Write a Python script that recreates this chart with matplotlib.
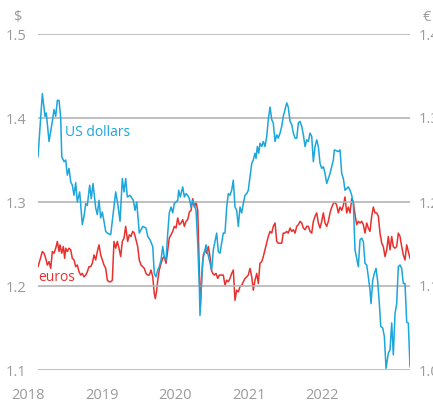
import matplotlib
matplotlib.use("Agg")
import matplotlib.pyplot as plt
import matplotlib.transforms as mtransforms

# Weekly rates (time in decimal years)
usd_t = [2018.136, 2018.195, 2018.231, 2018.249, 2018.286, 2018.331, 2018.354, 2018.377, 2018.399, 2018.422,
         2018.445, 2018.459, 2018.490, 2018.513, 2018.535, 2018.558, 2018.581, 2018.603, 2018.626, 2018.649,
         2018.671, 2018.703, 2018.739, 2018.762, 2018.785, 2018.807, 2018.839, 2018.861, 2018.884, 2018.921,
         2018.943, 2018.966, 2018.989, 2019.011, 2019.034, 2019.057, 2019.079, 2019.125, 2019.161, 2019.193,
         2019.224, 2019.252, 2019.283, 2019.306, 2019.329, 2019.351, 2019.388, 2019.433, 2019.456, 2019.479,
         2019.514, 2019.561, 2019.605, 2019.629, 2019.660, 2019.697, 2019.718, 2019.741, 2019.765, 2019.786,
         2019.810, 2019.833, 2019.854, 2019.878, 2019.901, 2019.922, 2019.946, 2019.969, 2019.990, 2020.037,
         2020.050, 2020.072, 2020.105, 2020.127, 2020.150, 2020.173, 2020.195, 2020.218, 2020.241, 2020.263,
         2020.286, 2020.309, 2020.331, 2020.340, 2020.354, 2020.377, 2020.399, 2020.422, 2020.445, 2020.467,
         2020.499, 2020.521, 2020.567, 2020.589, 2020.612, 2020.657, 2020.680, 2020.703, 2020.725, 2020.748,
         2020.771, 2020.793, 2020.816, 2020.839, 2020.861, 2020.884, 2020.907, 2020.929, 2020.952, 2020.976,
         2020.997, 2021.020, 2021.044, 2021.065, 2021.088, 2021.102, 2021.120, 2021.139, 2021.156, 2021.180,
         2021.201, 2021.224, 2021.248, 2021.269, 2021.293, 2021.316, 2021.337, 2021.361, 2021.384, 2021.405,
         2021.429, 2021.452, 2021.473, 2021.497, 2021.520, 2021.541, 2021.565, 2021.588, 2021.610, 2021.633,
         2021.656, 2021.678, 2021.701, 2021.724, 2021.746, 2021.769, 2021.792, 2021.814, 2021.837, 2021.860,
         2021.882, 2021.905, 2021.928, 2021.950, 2021.973, 2021.996, 2022.018, 2022.041, 2022.064, 2022.086,
         2022.109, 2022.132, 2022.154, 2022.167, 2022.222, 2022.245, 2022.268, 2022.290, 2022.313, 2022.336,
         2022.358, 2022.381, 2022.404, 2022.426, 2022.449, 2022.472, 2022.494, 2022.517, 2022.540, 2022.562,
         2022.585, 2022.608, 2022.630, 2022.653, 2022.667, 2022.690, 2022.712, 2022.735, 2022.758, 2022.780,
         2022.799, 2022.826, 2022.848, 2022.871, 2022.902, 2022.925, 2022.948, 2022.970, 2022.993, 2023.016,
         2023.038, 2023.061, 2023.084, 2023.106, 2023.129, 2023.152, 2023.174, 2023.197]
usd = [1.354, 1.429, 1.402, 1.406, 1.372, 1.396, 1.410, 1.402, 1.421, 1.421,
       1.400, 1.354, 1.348, 1.350, 1.332, 1.340, 1.324, 1.320, 1.308, 1.323,
       1.300, 1.312, 1.273, 1.283, 1.298, 1.296, 1.320, 1.304, 1.322, 1.293,
       1.285, 1.302, 1.281, 1.288, 1.277, 1.265, 1.263, 1.261, 1.288, 1.312,
       1.296, 1.277, 1.328, 1.312, 1.328, 1.306, 1.308, 1.302, 1.290, 1.300,
       1.263, 1.271, 1.269, 1.259, 1.255, 1.247, 1.215, 1.211, 1.219, 1.223,
       1.231, 1.247, 1.235, 1.231, 1.263, 1.287, 1.294, 1.287, 1.298, 1.302,
       1.314, 1.306, 1.318, 1.306, 1.310, 1.308, 1.304, 1.294, 1.302, 1.296,
       1.290, 1.251, 1.199, 1.165, 1.191, 1.231, 1.239, 1.249, 1.239, 1.231,
       1.219, 1.243, 1.263, 1.241, 1.239, 1.263, 1.263, 1.294, 1.310, 1.308,
       1.314, 1.326, 1.294, 1.290, 1.271, 1.294, 1.287, 1.298, 1.308, 1.310,
       1.314, 1.330, 1.346, 1.350, 1.358, 1.352, 1.366, 1.358, 1.370, 1.366,
       1.372, 1.366, 1.378, 1.398, 1.413, 1.398, 1.394, 1.372, 1.380, 1.376,
       1.382, 1.390, 1.402, 1.410, 1.418, 1.413, 1.396, 1.392, 1.382, 1.376,
       1.376, 1.394, 1.396, 1.390, 1.380, 1.366, 1.374, 1.372, 1.382, 1.378,
       1.348, 1.366, 1.374, 1.366, 1.346, 1.340, 1.342, 1.334, 1.322, 1.328,
       1.334, 1.342, 1.350, 1.362, 1.360, 1.362, 1.334, 1.328, 1.314, 1.316,
       1.318, 1.314, 1.308, 1.298, 1.243, 1.233, 1.223, 1.255, 1.257, 1.253,
       1.227, 1.225, 1.211, 1.195, 1.179, 1.207, 1.215, 1.221, 1.205, 1.179,
       1.152, 1.150, 1.140, 1.102, 1.120, 1.124, 1.156, 1.118, 1.167, 1.179,
       1.223, 1.225, 1.221, 1.203, 1.203, 1.157, 1.156, 1.104]

eur_t = [2018.136, 2018.163, 2018.195, 2018.218, 2018.241, 2018.263, 2018.286, 2018.309, 2018.331, 2018.354,
         2018.377, 2018.399, 2018.422, 2018.435, 2018.459, 2018.480, 2018.499, 2018.513, 2018.535, 2018.558,
         2018.581, 2018.603, 2018.626, 2018.649, 2018.671, 2018.694, 2018.717, 2018.739, 2018.762, 2018.785,
         2018.807, 2018.830, 2018.853, 2018.875, 2018.898, 2018.921, 2018.943, 2018.966, 2018.989, 2019.011,
         2019.034, 2019.057, 2019.079, 2019.102, 2019.125, 2019.147, 2019.170, 2019.193, 2019.215, 2019.238,
         2019.261, 2019.283, 2019.306, 2019.329, 2019.356, 2019.378, 2019.401, 2019.424, 2019.446, 2019.469,
         2019.492, 2019.514, 2019.537, 2019.561, 2019.582, 2019.605, 2019.629, 2019.650, 2019.673, 2019.697,
         2019.718, 2019.732, 2019.751, 2019.765, 2019.786, 2019.810, 2019.833, 2019.854, 2019.878, 2019.901,
         2019.922, 2019.946, 2019.969, 2019.990, 2020.014, 2020.037, 2020.059, 2020.082, 2020.105, 2020.127,
         2020.150, 2020.173, 2020.195, 2020.218, 2020.241, 2020.263, 2020.286, 2020.309, 2020.331, 2020.344,
         2020.363, 2020.385, 2020.412, 2020.431, 2020.453, 2020.476, 2020.494, 2020.513, 2020.535, 2020.558,
         2020.581, 2020.603, 2020.626, 2020.657, 2020.680, 2020.703, 2020.725, 2020.748, 2020.771, 2020.793,
         2020.816, 2020.839, 2020.861, 2020.884, 2020.907, 2020.929, 2020.952, 2020.976, 2020.997, 2021.020,
         2021.044, 2021.065, 2021.088, 2021.112, 2021.133, 2021.156, 2021.180, 2021.201, 2021.224, 2021.248,
         2021.269, 2021.293, 2021.316, 2021.337, 2021.361, 2021.384, 2021.405, 2021.429, 2021.452, 2021.473,
         2021.497, 2021.520, 2021.541, 2021.565, 2021.588, 2021.610, 2021.633, 2021.656, 2021.678, 2021.701,
         2021.724, 2021.746, 2021.769, 2021.792, 2021.814, 2021.837, 2021.860, 2021.882, 2021.905, 2021.928,
         2021.950, 2021.973, 2021.996, 2022.018, 2022.041, 2022.064, 2022.086, 2022.109, 2022.132, 2022.154,
         2022.177, 2022.200, 2022.222, 2022.245, 2022.268, 2022.290, 2022.313, 2022.336, 2022.358, 2022.381,
         2022.404, 2022.426, 2022.449, 2022.472, 2022.494, 2022.517, 2022.540, 2022.562, 2022.585, 2022.608,
         2022.630, 2022.653, 2022.676, 2022.698, 2022.721, 2022.744, 2022.766, 2022.789, 2022.812, 2022.834,
         2022.857, 2022.880, 2022.902, 2022.925, 2022.948, 2022.970, 2022.993, 2023.016, 2023.038, 2023.061,
         2023.084, 2023.106, 2023.129, 2023.152, 2023.174, 2023.197]
eur = [1.123, 1.131, 1.141, 1.139, 1.133, 1.125, 1.129, 1.121, 1.141, 1.139,
       1.145, 1.153, 1.141, 1.149, 1.139, 1.147, 1.133, 1.145, 1.141, 1.145,
       1.143, 1.133, 1.131, 1.123, 1.125, 1.117, 1.113, 1.115, 1.111, 1.113,
       1.117, 1.123, 1.123, 1.127, 1.137, 1.131, 1.141, 1.149, 1.137, 1.131,
       1.125, 1.121, 1.107, 1.105, 1.105, 1.107, 1.153, 1.145, 1.153, 1.145,
       1.135, 1.153, 1.157, 1.171, 1.153, 1.161, 1.159, 1.165, 1.163, 1.155,
       1.147, 1.131, 1.125, 1.123, 1.121, 1.115, 1.113, 1.113, 1.119, 1.111,
       1.091, 1.085, 1.095, 1.107, 1.119, 1.127, 1.133, 1.135, 1.127, 1.143,
       1.157, 1.161, 1.165, 1.171, 1.169, 1.181, 1.173, 1.175, 1.179, 1.171,
       1.177, 1.179, 1.188, 1.190, 1.204, 1.194, 1.200, 1.190, 1.115, 1.075,
       1.111, 1.137, 1.143, 1.139, 1.147, 1.135, 1.119, 1.115, 1.113, 1.115,
       1.109, 1.113, 1.113, 1.113, 1.101, 1.107, 1.105, 1.109, 1.115, 1.119,
       1.083, 1.095, 1.093, 1.099, 1.101, 1.105, 1.109, 1.111, 1.113, 1.121,
       1.111, 1.095, 1.107, 1.115, 1.103, 1.127, 1.129, 1.135, 1.143, 1.151,
       1.159, 1.165, 1.163, 1.171, 1.175, 1.153, 1.151, 1.151, 1.151, 1.163,
       1.163, 1.165, 1.163, 1.169, 1.165, 1.167, 1.163, 1.171, 1.173, 1.177,
       1.175, 1.169, 1.167, 1.171, 1.171, 1.165, 1.163, 1.177, 1.183, 1.187,
       1.175, 1.169, 1.177, 1.187, 1.175, 1.171, 1.177, 1.187, 1.194, 1.198,
       1.200, 1.196, 1.187, 1.194, 1.190, 1.196, 1.206, 1.187, 1.194, 1.187,
       1.204, 1.200, 1.185, 1.173, 1.177, 1.175, 1.177, 1.173, 1.163, 1.175,
       1.169, 1.165, 1.183, 1.194, 1.187, 1.187, 1.183, 1.163, 1.151, 1.147,
       1.135, 1.143, 1.159, 1.143, 1.159, 1.147, 1.145, 1.147, 1.163, 1.159,
       1.147, 1.137, 1.131, 1.149, 1.141, 1.133]

years = [2018, 2019, 2020, 2021, 2022]
usd_ticks = [1.1, 1.2, 1.3, 1.4, 1.5]
eur_ticks = [1.0, 1.1, 1.2, 1.3, 1.4]

BLUE = "#1ba6dc"
RED = "#e8312e"
GREY = "#9a9a9a"
GRID = "#b4b4b4"

plt.rcParams["font.family"] = ["Open Sans", "DejaVu Sans"]

fig = plt.figure(figsize=(4.33, 4.03), dpi=100)
ax = fig.add_axes([38 / 433, 33 / 403, 372 / 433, 336 / 403])
ax2 = ax.twinx()

ax.set_xlim(2018.136, 2023.197)
ax.set_ylim(1.1, 1.5)
ax2.set_ylim(1.0, 1.4)

# grid lines
for v in usd_ticks:
    ax.axhline(v, color=GRID, lw=1.2, zorder=0)

ax2.plot(eur_t, eur, color=RED, lw=1.1, solid_joinstyle="round")
ax.plot(usd_t, usd, color=BLUE, lw=1.1, solid_joinstyle="round")
ax.set_zorder(ax2.get_zorder() + 1)
ax.patch.set_visible(False)

for a in (ax, ax2):
    for s in a.spines.values():
        s.set_visible(False)
    a.set_xticks([])

ax.set_yticks(usd_ticks)
ax.set_yticklabels([f"{v:.1f}" for v in usd_ticks])
ax2.set_yticks(eur_ticks)
ax2.set_yticklabels([f"{v:.1f}" for v in eur_ticks])
ax.tick_params(axis="y", length=0, pad=8, labelsize=10.5, labelcolor=GREY)
ax2.tick_params(axis="y", length=0, pad=6, labelsize=10.5, labelcolor=GREY)

# year labels
trans = mtransforms.blended_transform_factory(ax.transData, ax.transAxes)
for yr in years:
    ax.text(yr, -0.075, str(yr), transform=trans, ha="center", va="center",
            fontsize=10.5, color=GREY, clip_on=False)

ax.text(-0.055, 1.05, "$", transform=ax.transAxes, ha="center", va="center",
        fontsize=10.5, color=GREY)
ax.text(1.045, 1.05, "€", transform=ax.transAxes, ha="center", va="center",
        fontsize=10.5, color=GREY)

ax.text(2018.5, 1.383, "US dollars", color=BLUE, fontsize=10, va="center", ha="left")
ax.text(2018.136, 1.210, "euros", color=RED, fontsize=10, va="center", ha="left")

fig.savefig("out.png", dpi=100)
